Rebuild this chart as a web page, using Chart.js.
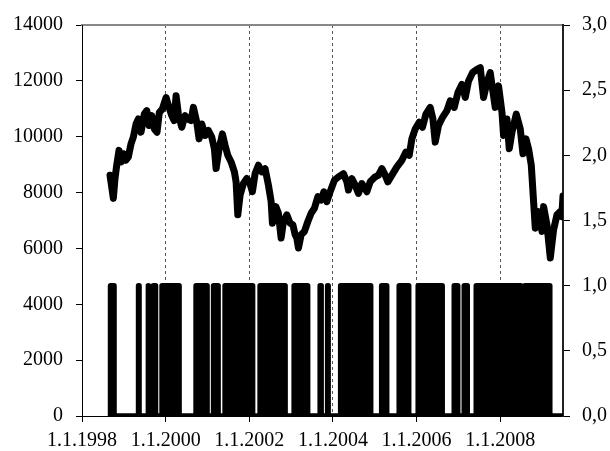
<!DOCTYPE html>
<html>
<head>
<meta charset="utf-8">
<script src="https://cdn.jsdelivr.net/npm/chart.js@4.4.0/dist/chart.umd.min.js"></script>
<style>
  html, body { margin: 0; padding: 0; background: #ffffff; }
  #wrap { width: 610px; height: 451px; }
</style>
</head>
<body>
<div id="wrap"><canvas id="c" width="610" height="451"></canvas></div>
<script>
// Index level (left axis), sampled as decimal years
const indexYears = [
  1998.670, 1998.749, 1998.789, 1998.830, 1998.885, 1998.933, 1998.988, 1999.045, 1999.108, 1999.172,
  1999.227, 1999.292, 1999.347, 1999.411, 1999.490, 1999.548, 1999.603, 1999.667, 1999.730, 1999.794,
  1999.849, 1999.921, 2000.010, 2000.081, 2000.146, 2000.201, 2000.249, 2000.304, 2000.385, 2000.464,
  2000.529, 2000.608, 2000.663, 2000.744, 2000.799, 2000.864, 2000.943, 2001.022, 2001.103, 2001.165,
  2001.206, 2001.278, 2001.356, 2001.421, 2001.486, 2001.565, 2001.644, 2001.684, 2001.725, 2001.780,
  2001.859, 2001.940, 2002.002, 2002.074, 2002.139, 2002.218, 2002.299, 2002.378, 2002.457, 2002.522,
  2002.553, 2002.634, 2002.696, 2002.761, 2002.816, 2002.897, 2002.976, 2003.041, 2003.096, 2003.136,
  2003.175, 2003.239, 2003.318, 2003.400, 2003.478, 2003.557, 2003.639, 2003.718, 2003.782, 2003.854,
  2003.933, 2004.036, 2004.132, 2004.251, 2004.333, 2004.371, 2004.452, 2004.531, 2004.610, 2004.691,
  2004.811, 2004.890, 2005.010, 2005.089, 2005.170, 2005.249, 2005.313, 2005.409, 2005.529, 2005.648,
  2005.744, 2005.823, 2005.887, 2005.967, 2006.062, 2006.141, 2006.222, 2006.325, 2006.390, 2006.445,
  2006.524, 2006.620, 2006.725, 2006.804, 2006.900, 2006.988, 2007.084, 2007.163, 2007.242, 2007.337,
  2007.443, 2007.522, 2007.600, 2007.682, 2007.761, 2007.816, 2007.880, 2007.959, 2008.041, 2008.079,
  2008.160, 2008.215, 2008.280, 2008.383, 2008.478, 2008.543, 2008.615, 2008.677, 2008.742, 2008.797,
  2008.837, 2008.916, 2008.998, 2009.036, 2009.117, 2009.196, 2009.275, 2009.356, 2009.435, 2009.470,
  2009.500
];
const indexValues = [
  8623, 7792, 8502, 8979, 9512, 9096, 9391, 9156, 9273, 9746,
  9984, 10456, 10634, 10162, 10812, 10933, 10400, 10755, 10279, 10162,
  10872, 10989, 11405, 11050, 10755, 10577, 11466, 10812, 10339, 10755,
  10634, 10577, 11050, 10517, 9923, 10456, 10044, 10222, 9984, 9568,
  8858, 9568, 10101, 9689, 9334, 9096, 8740, 8385, 7202, 7913,
  8325, 8502, 8385, 8030, 8680, 8979, 8740, 8858, 8268, 7674,
  6903, 7497, 7259, 6371, 6964, 7202, 6903, 6846, 6491, 6371,
  6015, 6491, 6609, 6964, 7259, 7437, 7852, 7735, 8030, 7674,
  8030, 8445, 8563, 8680, 8385, 8090, 8502, 8268, 7970, 8325,
  8030, 8385, 8563, 8623, 8858, 8623, 8385, 8623, 8918, 9156,
  9451, 9334, 9923, 10279, 10517, 10339, 10812, 11050, 10634, 9806,
  10400, 10694, 10933, 11288, 11050, 11583, 11877, 11405, 11998, 12293,
  12411, 12471, 11405, 11938, 12293, 11700, 11050, 11821, 10872, 10044,
  10634, 9568, 10162, 10812, 10279, 9390, 9923, 9568, 8979, 7674,
  6726, 7319, 6609, 7497, 6846, 5660, 6669, 7202, 7319, 7141,
  7880
];

// Periods where the indicator is 1 (right axis), start and end as decimal years
const onStarts = [
  1998.682, 1999.352, 1999.579, 1999.699, 1999.734, 1999.914, 2000.727, 2001.146, 2001.421, 2002.258,
  2003.072, 2003.694, 2003.873, 2004.184, 2005.165, 2005.584, 2006.038, 2006.900, 2007.139, 2007.426,
  2008.586
];
const onEnds = [
  1998.766, 1999.364, 1999.591, 1999.711, 1999.758, 2000.321, 2000.990, 2001.254, 2002.079, 2002.856,
  2003.395, 2003.718, 2003.885, 2004.902, 2005.285, 2005.811, 2006.612, 2006.983, 2007.211, 2008.490,
  2009.184
];
const indicatorEnd = 2009.5;

// Axis ticks
const xTickYears = [1998, 2000, 2002, 2004, 2006, 2008];
const leftTicks = [0, 2000, 4000, 6000, 8000, 10000, 12000, 14000];
const rightTicks = [0, 0.5, 1, 1.5, 2, 2.5, 3];

const indexPoints = indexYears.map((yr, i) => ({ x: yr, y: indexValues[i] }));

// Indicator path: rises to 1 at each start, back to 0 at each end
const indicatorPoints = [];
onStarts.forEach((s, i) => {
  indicatorPoints.push({ x: s, y: 0 }, { x: s, y: 1 }, { x: onEnds[i], y: 1 }, { x: onEnds[i], y: 0 });
});
indicatorPoints.push({ x: indicatorEnd, y: 0 });

const font = { family: "'Liberation Serif', 'Times New Roman', serif", size: 20 };

new Chart(document.getElementById('c').getContext('2d'), {
  type: 'line',
  data: {
    datasets: [
      {
        data: indexPoints,
        yAxisID: 'y',
        borderColor: '#000',
        borderWidth: 7,
        pointRadius: 0,
        tension: 0,
        fill: false,
        borderJoinStyle: 'round',
        borderCapStyle: 'round'
      },
      {
        data: indicatorPoints,
        yAxisID: 'y1',
        borderColor: '#000',
        backgroundColor: '#000',
        borderWidth: 5.5,
        pointRadius: 0,
        tension: 0,
        fill: 'origin',
        borderJoinStyle: 'round',
        borderCapStyle: 'round'
      }
    ]
  },
  options: {
    responsive: false,
    animation: false,
    events: [],
    layout: { padding: { top: 22, left: 0, right: 0, bottom: 0 } },
    plugins: { legend: { display: false }, tooltip: { enabled: false } },
    scales: {
      x: {
        type: 'linear',
        position: 'bottom',
        min: 1998,
        max: 2009.5,
        afterBuildTicks: s => { s.ticks = xTickYears.map(v => ({ value: v })); },
        afterFit: s => { s.height = 35; },
        ticks: {
          callback: v => '1.1.' + v,
          font: font,
          color: '#000',
          padding: 7,
          maxRotation: 0,
          autoSkip: false
        },
        grid: {
          color: c => (c.tick && c.tick.value === 1998) ? 'rgba(0,0,0,0)' : '#555',
          lineWidth: 1,
          drawTicks: true,
          tickLength: 6,
          tickColor: '#000',
          tickWidth: 1
        },
        border: { color: '#000', width: 1, dash: [3, 3] }
      },
      xTop: {
        type: 'linear',
        position: 'top',
        min: 1998,
        max: 2009.5,
        afterFit: s => { s.height = 0; },
        ticks: { display: false },
        grid: { display: false, drawTicks: false },
        border: { color: '#888', width: 2 }
      },
      y: {
        position: 'left',
        min: 0,
        max: 14000,
        afterBuildTicks: s => { s.ticks = leftTicks.map(v => ({ value: v })); },
        afterFit: s => { s.width = 82; },
        ticks: { font: font, color: '#000', padding: 13, callback: v => String(v) },
        grid: { drawOnChartArea: false, tickLength: 6, tickColor: '#000' },
        border: { color: '#000', width: 1 }
      },
      y1: {
        position: 'right',
        min: 0,
        max: 3,
        afterBuildTicks: s => { s.ticks = rightTicks.map(v => ({ value: v })); },
        afterFit: s => { s.width = 47; },
        ticks: {
          font: font,
          color: '#000',
          padding: 12,
          callback: v => Number(v).toFixed(1).replace('.', ',')
        },
        grid: { drawOnChartArea: false, tickLength: 7, tickColor: '#000' },
        border: { color: '#222', width: 2 }
      }
    }
  }
});
</script>
</body>
</html>
